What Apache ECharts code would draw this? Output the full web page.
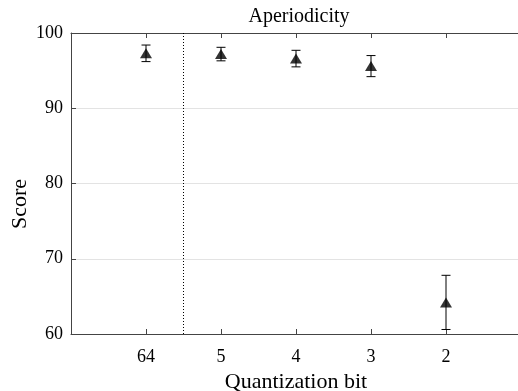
<!DOCTYPE html>
<html><head><meta charset="utf-8">
<script src="https://cdn.jsdelivr.net/npm/echarts@6/dist/echarts.min.js"></script>
<style>html,body{margin:0;padding:0;background:#fff}#c{width:518px;height:391px}</style>
</head><body><div id="c"></div>
<script>
var categories = ['64', '5', '4', '3', '2'];
var means = [97.3, 97.2, 96.6, 95.6, 64.2];
var lower = [96.2, 96.3, 95.5, 94.2, 60.6];
var upper = [98.4, 98.1, 97.7, 97.0, 67.8];
var yTicks = [60, 70, 80, 90, 100];
var separatorX = 1.5;

var font = 'Liberation Serif';
var pts = means.map(function (m, i) { return [i + 1, m]; });
var errs = means.map(function (m, i) { return [i + 1, lower[i], upper[i]]; });

var chart = echarts.init(document.getElementById('c'), null, {renderer: 'canvas'});
var tickStyle = {show: true, inside: true, length: 5, lineStyle: {color: '#444'}, customValues: [1, 2, 3, 4, 5]};
chart.setOption({
  animation: false,
  title: {text: 'Aperiodicity', left: 294, top: 2, textAlign: 'center',
    textStyle: {fontFamily: font, fontWeight: 'normal', fontSize: 20, color: '#000'}},
  grid: {left: 71, top: 33, width: 450, height: 301, containLabel: false, outerBoundsMode: 'none'},
  graphic: [{
    type: 'text', left: 9, top: 179,
    rotation: Math.PI / 2,
    style: {text: 'Score', font: '22px "Liberation Serif"', fill: '#000'}
  }],
  xAxis: [
    {
      type: 'value', min: 0, max: 6, interval: 1, position: 'bottom',
      name: 'Quantization bit', nameLocation: 'middle', nameGap: 32,
      nameTextStyle: {fontFamily: font, fontSize: 22, color: '#000', verticalAlign: 'top'},
      axisLine: {show: true, onZero: false, lineStyle: {color: '#444', width: 1}},
      axisTick: tickStyle,
      axisLabel: {fontFamily: font, fontSize: 18, color: '#000', margin: 14,
        customValues: [1, 2, 3, 4, 5],
        formatter: function (v) { return categories[Math.round(v) - 1] || ''; }},
      splitLine: {show: false}
    },
    {
      type: 'value', min: 0, max: 6, interval: 1, position: 'top',
      axisLine: {show: true, onZero: false, lineStyle: {color: '#444', width: 1}},
      axisTick: tickStyle,
      axisLabel: {show: false},
      splitLine: {show: false}
    }
  ],
  yAxis: {
    type: 'value', min: 60, max: 100, interval: 10,
    axisLine: {show: true, lineStyle: {color: '#444'}},
    axisTick: {show: true, inside: true, length: 5, lineStyle: {color: '#444'}},
    axisLabel: {fontFamily: font, fontSize: 18, color: '#000', margin: 8,
      customValues: yTicks},
    splitLine: {show: true, lineStyle: {color: '#e3e3e3', width: 1}}
  },
  series: [
    {
      type: 'custom', xAxisIndex: 0,
      data: errs,
      renderItem: function (params, api) {
        var x = api.value(0);
        var lo = api.coord([x, api.value(1)]);
        var hi = api.coord([x, api.value(2)]);
        var hw = 4.5;
        var st = {stroke: '#000', lineWidth: 1};
        return {type: 'group', children: [
          {type: 'line', shape: {x1: lo[0], y1: lo[1], x2: hi[0], y2: hi[1]}, style: st},
          {type: 'line', shape: {x1: lo[0] - hw, y1: lo[1], x2: lo[0] + hw, y2: lo[1]}, style: st},
          {type: 'line', shape: {x1: hi[0] - hw, y1: hi[1], x2: hi[0] + hw, y2: hi[1]}, style: st}
        ]};
      },
      z: 2
    },
    {
      type: 'scatter', xAxisIndex: 0,
      data: pts, symbol: 'triangle', symbolSize: [12, 10],
      itemStyle: {color: '#000'}, z: 3,
      markLine: {
        silent: true, symbol: 'none', label: {show: false},
        lineStyle: {type: [1, 2], color: '#000', width: 1},
        data: [{xAxis: separatorX}]
      }
    }
  ]
});
</script></body></html>
